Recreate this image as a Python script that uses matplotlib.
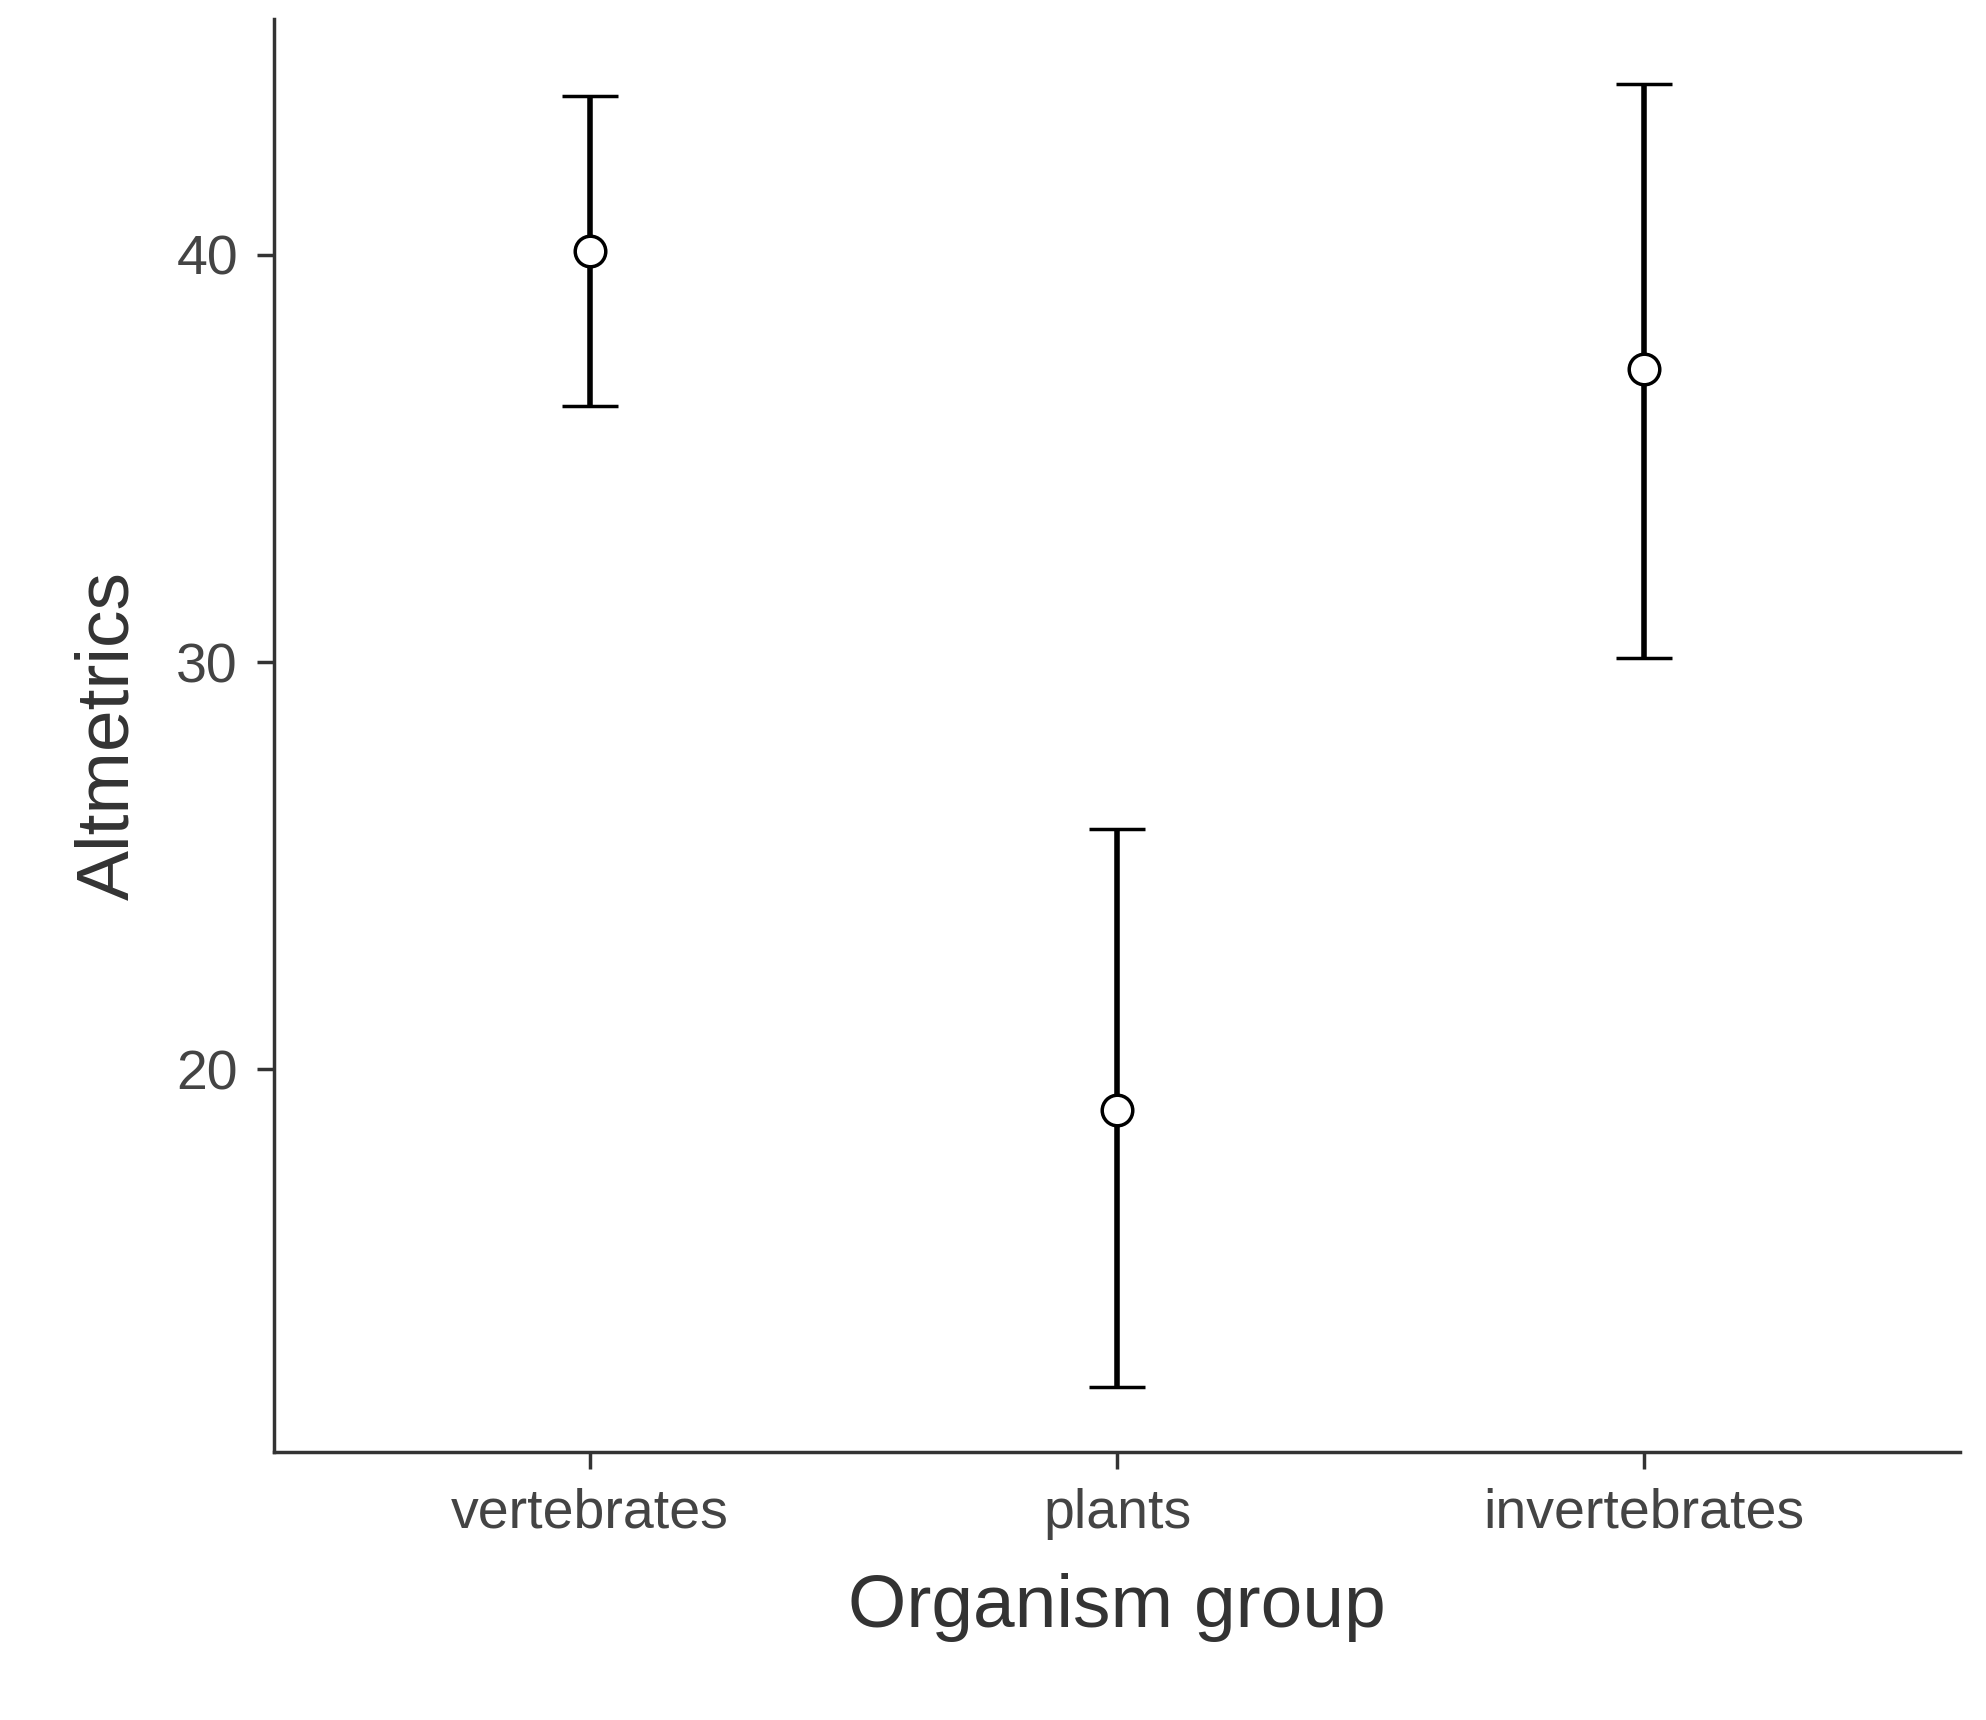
import matplotlib.pyplot as plt
import numpy as np

# data
groups = ['vertebrates', 'plants', 'invertebrates']
means = [40.1, 19.0, 37.2]
upper = [43.9, 25.9, 44.2]
lower = [36.3, 12.2, 30.1]

plt.rcParams['font.family'] = ['Liberation Sans', 'DejaVu Sans']

fig = plt.figure(figsize=(19.86, 17.2), dpi=100)
ax = fig.add_axes([0.138, 0.156, 0.849, 0.833])

x = np.arange(len(groups))
m = np.array(means)
err = [m - np.array(lower), np.array(upper) - m]
ax.errorbar(x, m, yerr=err, fmt='o', color='black', ecolor='black',
            elinewidth=4, capsize=20, capthick=4,
            markersize=22, markerfacecolor='white', markeredgecolor='black',
            markeredgewidth=2.5)

ax.set_xlim(-0.6, 2.6)
ax.set_ylim(10.6, 45.8)
ax.set_yticks([20, 30, 40])
ax.set_xticks(x)
ax.set_xticklabels(groups)

for s in ['top', 'right']:
    ax.spines[s].set_visible(False)
for s in ['left', 'bottom']:
    ax.spines[s].set_linewidth(2.5)
    ax.spines[s].set_color('#333333')
ax.tick_params(axis='both', length=12, width=2.5, color='#333333',
               labelsize=40, labelcolor='#444444', pad=14)

ax.set_xlabel('Organism group', fontsize=54, color='#333333', labelpad=24)
ax.set_ylabel('Altmetrics', fontsize=54, color='#333333', labelpad=24)

fig.savefig('out.png', dpi=100)
